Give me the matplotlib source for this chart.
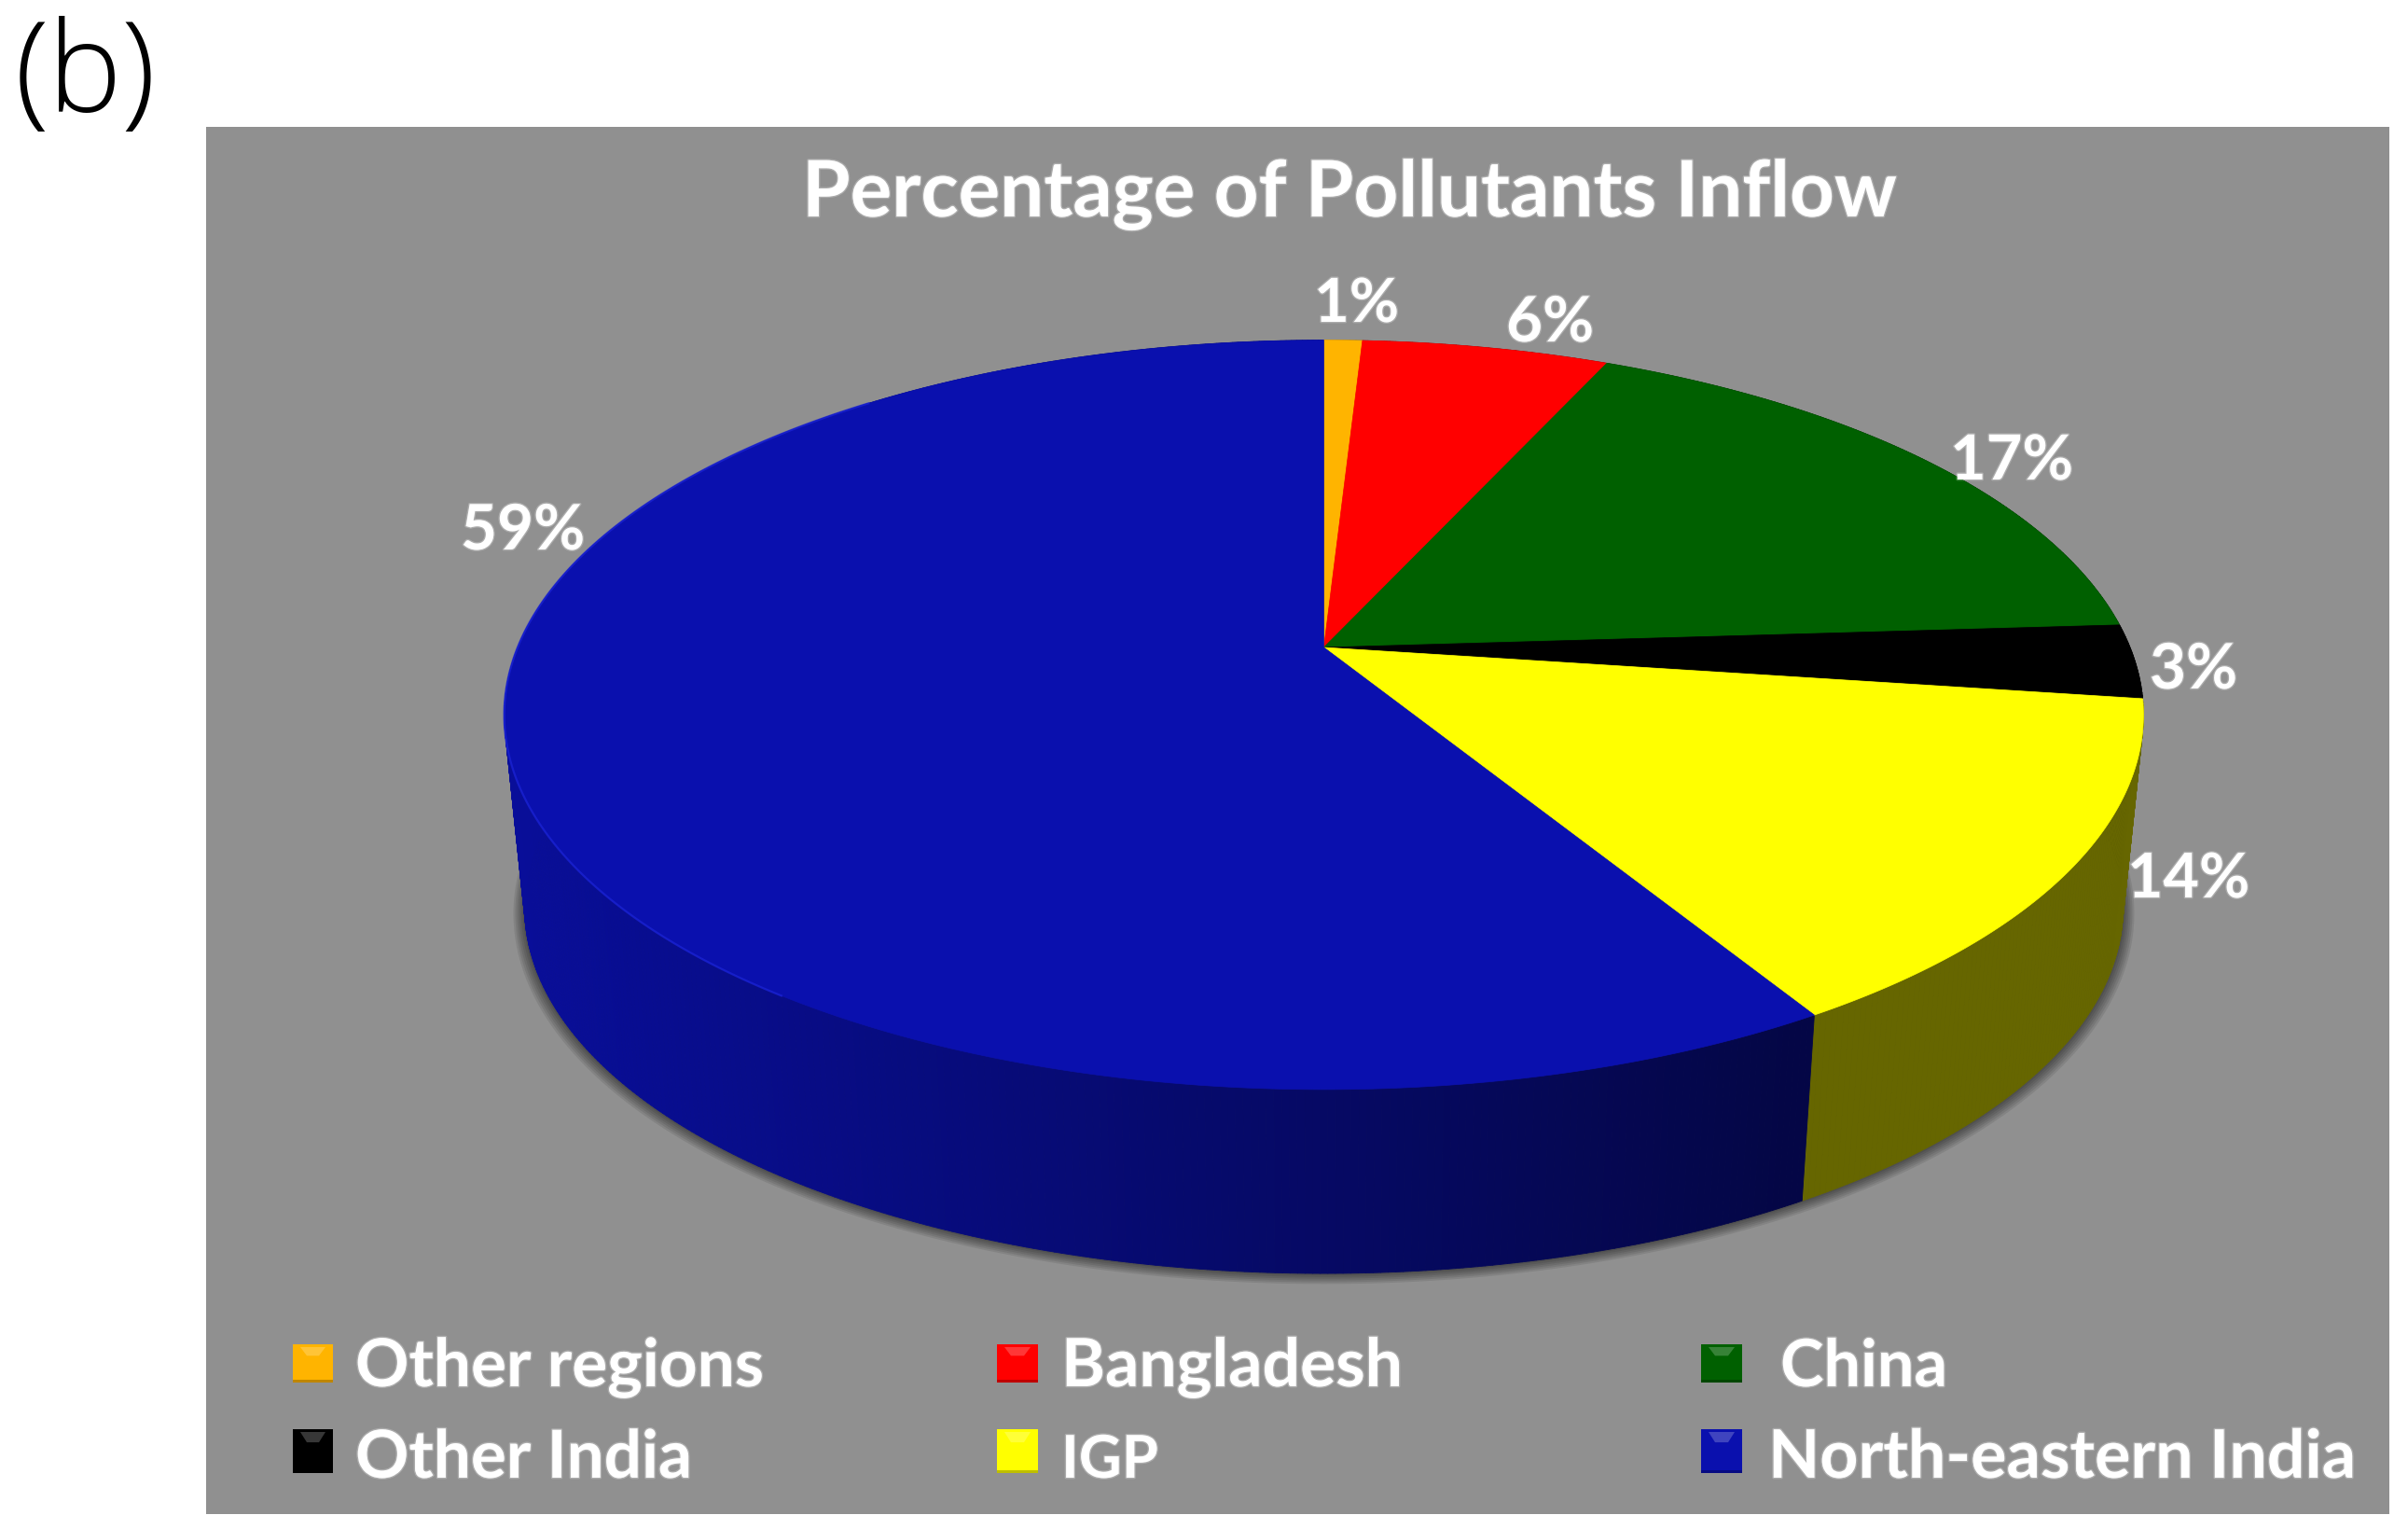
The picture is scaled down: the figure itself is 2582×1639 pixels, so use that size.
import numpy as np
import matplotlib
matplotlib.use("Agg")
import matplotlib.pyplot as plt
from matplotlib.collections import PolyCollection
from matplotlib.patches import Polygon, Rectangle
import matplotlib.patheffects as pe

categories = ["Other regions", "Bangladesh", "China", "Other India", "IGP", "North-eastern India"]
# shares, the printed labels are these rounded
values = [0.9, 5.8, 17.3, 3.2, 14.2, 58.6]
colors = ["#FFB400", "#FF0000", "#006000", "#000000", "#FFFF00", "#0A10AE"]
title = "Percentage of Pollutants Inflow"

plt.rcParams["font.family"] = ["Lato", "DejaVu Sans"]

# pie geometry in image pixels, top face is a circle seen in perspective
CX, CY = 1419.5, 695.0
A, B, K = 864.5, 388.6, 0.18
DEPTH_SCALE, DEPTH_DY = 0.975, 209.0


def rim(theta, s=1.0, dy=0.0):
    u, v = np.sin(theta), np.cos(theta)
    den = 1 + K * v
    return np.column_stack([CX + s * A * u / den, CY + dy - s * B * v / den])


def fit_text(ax, x0, x1, y, txt, **kw):
    # scale the font so the text spans x0..x1, y is the baseline
    t = ax.text(x0, y, txt, ha="left", va="baseline", fontsize=40, **kw)
    r = ax.figure.canvas.get_renderer()
    w = t.get_window_extent(r).width
    t.set_fontsize(40 * (x1 - x0) / w)
    return t


fig = plt.figure(figsize=(25.82, 16.40), dpi=100, facecolor="white")
ax = fig.add_axes([0, 0, 1, 1])
ax.set_xlim(0, 2582)
ax.set_ylim(1640, 0)
ax.axis("off")

ax.add_patch(Rectangle((221, 137), 2341, 1487, fc="#909090", ec="none", zorder=0))

# soft shadow under the pie
all_t = np.radians(np.linspace(0, 360, 721))
for d in [12, 10, 8, 6, 4, 2]:
    pts = rim(all_t, DEPTH_SCALE * (1 + d / 850), DEPTH_DY + d * 0.4)
    ax.add_patch(Polygon(pts, fc="black", ec="none", alpha=0.09, zorder=1))

# side wall then top face for each slice
edges = np.radians(np.cumsum([0] + values) * 3.6)
for i, c in enumerate(colors):
    th = np.linspace(edges[i], edges[i + 1], max(int(values[i] * 8), 4))
    top = rim(th)
    bot = rim(th, DEPTH_SCALE, DEPTH_DY)
    quads, faces = [], []
    rgb = np.array(matplotlib.colors.to_rgb(c))
    for j in range(len(th) - 1):
        quads.append([top[j], top[j + 1], bot[j + 1], bot[j]])
        shade = max(0.4, 0.88 - 0.48 * (top[j, 0] - 540) / (1930 - 540))
        faces.append(rgb * shade)
    ax.add_collection(PolyCollection(quads, facecolors=faces, edgecolors="face", linewidths=0.6, zorder=2))

for i, c in enumerate(colors):
    th = np.linspace(edges[i], edges[i + 1], max(int(values[i] * 8), 4))
    pts = np.vstack([[CX, CY], rim(th)])
    ax.add_patch(Polygon(pts, fc=c, ec=c, lw=0.5, zorder=3))

# thin highlight along front rim of the blue slice
hl = rim(np.radians(np.linspace(215, 320, 120)))
ax.plot(hl[:, 0], hl[:, 1], color="#1A22D2", lw=1.6, alpha=0.8, zorder=4)

glow = [pe.withStroke(linewidth=2, foreground="white", alpha=0.25)]
white = dict(color="white", fontweight="bold", path_effects=glow, zorder=6)

fit_text(ax, 860, 2034, 233, title, **white)

# value labels: x0, x1, baseline
label_pos = [(1409, 1500, 346), (1615, 1709, 367), (2091, 2223, 515),
             (2305, 2399, 739), (2281, 2412, 963), (494, 627, 590)]
for v, (x0, x1, y) in zip(values, label_pos):
    fit_text(ax, x0, x1, y, "{:.0f}%".format(v), **white)

# legend, filled row by row
swatches = [(314, 1442, 43, 41), (1069, 1442, 44, 41), (1824, 1442, 44, 41),
            (314, 1533, 43, 47), (1069, 1533, 44, 47), (1824, 1533, 44, 47)]
legend_text = [(381, 819, 1487), (1138, 1504, 1487), (1909, 2088, 1487),
               (381, 742, 1585), (1138, 1242, 1585), (1896, 2526, 1585)]
for name, c, (x, y, w, h), (x0, x1, base) in zip(categories, colors, swatches, legend_text):
    ax.add_patch(Rectangle((x, y), w, h, fc=c, ec="none", zorder=5))
    ax.add_patch(Polygon([(x + 8, y + 3), (x + w - 8, y + 3), (x + w - 15, y + h * 0.3), (x + 15, y + h * 0.3)],
                         fc="white", ec="none", alpha=0.22, zorder=5))
    ax.add_patch(Rectangle((x, y + h - 3), w, 3, fc="black", ec="none", alpha=0.25, zorder=5))
    fit_text(ax, x0, x1, base, name, **white)

fit_text(ax, 16, 168, 120, "(b)", color="black", fontweight="light",
         family=["Open Sans", "DejaVu Sans"], zorder=6)

fig.savefig("out.png", dpi=100)
